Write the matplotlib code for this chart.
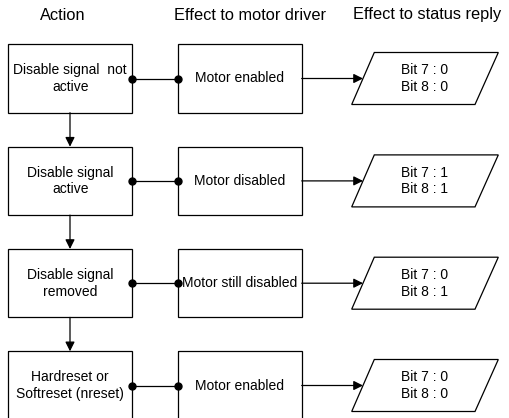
import matplotlib.pyplot as plt
from matplotlib.patches import Rectangle, Polygon

## Data
headers = ["Action", "Effect to motor driver", "Effect to status reply"]
actions = ["Disable signal  not\nactive", "Disable signal\nactive",
           "Disable signal\nremoved", "Hardreset or\nSoftreset (nreset)"]
motor_states = ["Motor enabled", "Motor disabled", "Motor still disabled", "Motor enabled"]
bit7 = [0, 1, 0, 0]
bit8 = [0, 1, 1, 0]

plt.rcParams['font.family'] = ['Liberation Sans', 'DejaVu Sans']

fig = plt.figure(figsize=(5.09, 4.18), dpi=100)
ax = fig.add_axes([0, 0, 1, 1])
ax.set_xlim(0, 509)
ax.set_ylim(418, 0)
ax.axis('off')

## Layout (pixels)
row_top = [44.3, 146.7, 249, 351.3]
box_h = 68.4
act_x0, act_x1 = 8.3, 132.3
mot_x0, mot_x1 = 178.3, 301.7
par_h = 52
lw = 0.9

# headers
for x, h in zip([63, 250, 427], headers):
    ax.text(x, 15, h, ha='center', va='center', fontsize=11.8)

for i in range(len(actions)):
    y0 = row_top[i]
    yc = y0 + box_h / 2
    # boxes
    ax.add_patch(Rectangle((act_x0, y0), act_x1 - act_x0, box_h, fill=False, ec='black', lw=lw))
    ax.add_patch(Rectangle((mot_x0, y0), mot_x1 - mot_x0, box_h, fill=False, ec='black', lw=lw))
    ax.text((act_x0 + act_x1) / 2, yc, actions[i], ha='center', va='center',
            fontsize=10, linespacing=1.25)
    ax.text((mot_x0 + mot_x1) / 2, yc, motor_states[i], ha='center', va='center', fontsize=10)

    # connector with dots
    ax.plot([act_x1, mot_x0], [yc, yc], color='black', lw=lw)
    ax.plot([act_x1, mot_x0], [yc, yc], 'o', color='black', ms=5)

    # parallelogram
    pt, pb = yc - par_h / 2, yc + par_h / 2
    ax.add_patch(Polygon([(374.3, pt), (498.3, pt), (475, pb), (351.7, pb)],
                         closed=True, fill=False, ec='black', lw=lw))
    ax.text(425, yc, "Bit 7 : %d\nBit 8 : %d" % (bit7[i], bit8[i]), ha='center', va='center',
            fontsize=10, linespacing=1.25)

    # arrow to status
    ax.annotate("", xy=(363, yc), xytext=(mot_x1, yc),
                arrowprops=dict(arrowstyle='-|>', color='black', lw=lw, mutation_scale=14,
                                shrinkA=0, shrinkB=0))

    # down arrow to next action
    if i < len(actions) - 1:
        ax.annotate("", xy=(70, row_top[i + 1]), xytext=(70, y0 + box_h),
                    arrowprops=dict(arrowstyle='-|>', color='black', lw=lw, mutation_scale=14,
                                    shrinkA=0, shrinkB=0))

fig.savefig("out.png", dpi=100)
